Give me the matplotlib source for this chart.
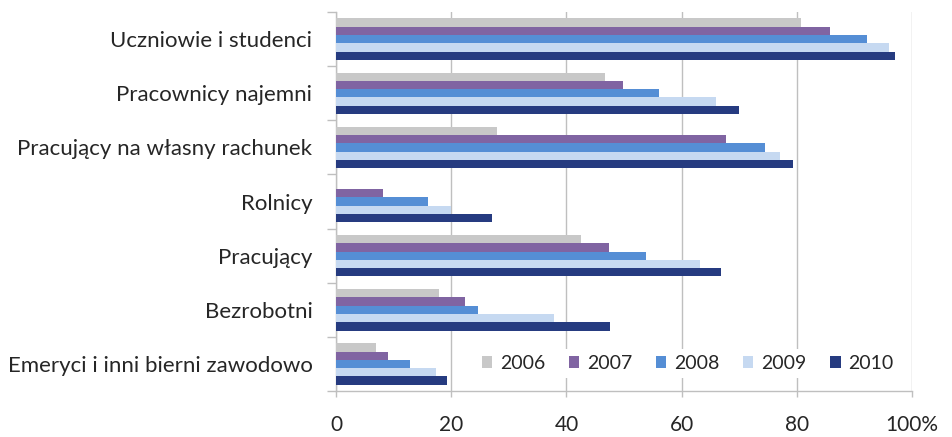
import numpy as np
import matplotlib
matplotlib.use("Agg")
import matplotlib.pyplot as plt

# Categories listed top to bottom, as in the reference
CATEGORIES = [
    "Uczniowie i studenci",
    "Pracownicy najemni",
    "Pracujący na własny rachunek",
    "Rolnicy",
    "Pracujący",
    "Bezrobotni",
    "Emeryci i inni bierni zawodowo",
]
YEARS = ["2006", "2007", "2008", "2009", "2010"]

V2006 = [80.7, 46.7, 28.0, 0.0, 42.6, 17.9, 7.0]
V2007 = [85.8, 49.9, 67.7, 8.1, 47.4, 22.4, 9.1]
V2008 = [92.1, 56.0, 74.4, 16.0, 53.8, 24.7, 12.8]
V2009 = [96.0, 65.9, 77.0, 19.9, 63.2, 37.9, 17.3]
V2010 = [97.0, 69.9, 79.3, 27.0, 66.8, 47.5, 19.2]

X_TICKS = [0, 20, 40, 60, 80, 100]
X_TICK_LABELS = ["0", "20", "40", "60", "80", "100%"]

COLORS = ["#C8C8C8", "#8064A2", "#558ED5", "#C6D9F1", "#263B80"]

plt.rcParams["font.family"] = ["Lato", "DejaVu Sans"]
TEXT = "#262626"
GRID = "#BFBFBF"

fig = plt.figure(figsize=(9.52, 4.37), dpi=100)
ax = fig.add_axes([0.353, 0.105, 0.605, 0.8675])

series = [V2006, V2007, V2008, V2009, V2010]
y = np.arange(len(CATEGORIES))
h = 0.153
for i, (vals, year, col) in enumerate(zip(series, YEARS, COLORS)):
    ax.barh(y + (i - 2) * h, vals, height=h, color=col, label=year,
            linewidth=0, zorder=3)

ax.set_xlim(0, 100)
ax.set_ylim(len(CATEGORIES) - 0.5, -0.5)

ax.set_xticks(X_TICKS)
ax.set_xticklabels(X_TICK_LABELS)
ax.set_yticks(y)
ax.set_yticklabels(CATEGORIES)
# tick marks sit at category boundaries
ax.set_yticks(np.arange(len(CATEGORIES) + 1) - 0.5, minor=True)
ax.tick_params(axis="y", which="major", length=0, pad=17, labelsize=16, labelcolor=TEXT)
ax.tick_params(axis="y", which="minor", length=6.5, width=1, color=GRID, direction="out")
ax.tick_params(axis="x", length=4, width=1, color=GRID, direction="out",
               pad=13, labelsize=15, labelcolor=TEXT)

ax.grid(axis="x", color=GRID, linewidth=1, zorder=0)
ax.set_axisbelow(True)
for s in ["top", "right"]:
    ax.spines[s].set_visible(False)
for s in ["left", "bottom"]:
    ax.spines[s].set_color(GRID)
    ax.spines[s].set_linewidth(1)

leg = ax.legend(loc="lower right", bbox_to_anchor=(0.995, 0.01), ncol=5,
                frameon=True, fontsize=14, handlelength=0.55, handleheight=0.55,
                handletextpad=0.4, columnspacing=1.2, borderpad=0.3)
leg.get_frame().set_facecolor("white")
leg.get_frame().set_edgecolor("none")
leg.get_frame().set_alpha(1)
leg.set_zorder(5)
for t in leg.get_texts():
    t.set_color(TEXT)

fig.savefig("out.png", dpi=100)
